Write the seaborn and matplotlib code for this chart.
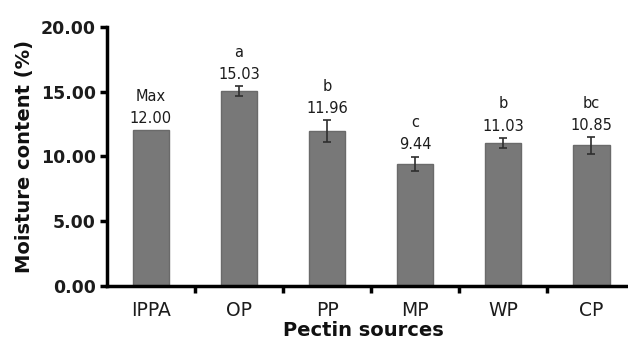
import matplotlib
matplotlib.use("Agg")
import matplotlib.pyplot as plt
from matplotlib.ticker import FixedLocator
import seaborn as sns
import pandas as pd

# Moisture content of pectin from different sources
sources = ["IPPA", "OP", "PP", "MP", "WP", "CP"]
moisture = [12.00, 15.03, 11.96, 9.44, 11.03, 10.85]
sd = [0.0, 0.40, 0.85, 0.55, 0.40, 0.65]
letters = ["Max", "a", "b", "c", "b", "bc"]
value_labels = ["12.00", "15.03", "11.96", "9.44", "11.03", "10.85"]
y_ticks = [0, 5, 10, 15, 20]

sns.set_theme(style="ticks")
plt.rcParams["font.family"] = ["DejaVu Sans"]

df = pd.DataFrame({"source": sources, "moisture": moisture})

fig = plt.figure(figsize=(6.28, 3.40), dpi=100)
ax = fig.add_axes([0.170, 0.159, 0.842, 0.762])

sns.barplot(data=df, x="source", y="moisture", ax=ax, color="#787878",
            saturation=1, width=0.41, edgecolor="#6a6a6a", linewidth=1)

# error bars (IPPA has no spread)
for i, (m, s) in enumerate(zip(moisture, sd)):
    if s > 0:
        ax.errorbar(i, m, yerr=s, fmt="none", ecolor="#2e2e2e",
                    elinewidth=1.2, capsize=3, capthick=1.2)

# value and significance letters above each bar
for i, (m, s, v, l) in enumerate(zip(moisture, sd, value_labels, letters)):
    ax.annotate(v, (i, m + s), xytext=(0, 3), textcoords="offset points",
                ha="center", va="bottom", fontsize=10.5, color="#1c1c1c")
    ax.annotate(l, (i, m + s), xytext=(0, 19), textcoords="offset points",
                ha="center", va="bottom", fontsize=10.5, color="#1c1c1c")

ax.set_ylim(0, 20)
ax.set_xlim(-0.5, 5.5)
ax.yaxis.set_major_locator(FixedLocator(y_ticks))
ax.set_yticklabels([f"{t:.2f}" for t in y_ticks], fontweight="bold", fontsize=12.5)
ax.xaxis.set_minor_locator(FixedLocator([0.5, 1.5, 2.5, 3.5, 4.5]))
ax.tick_params(axis="x", which="major", length=0, pad=11, labelsize=13.5,
               labelcolor="#1c1c1c")
ax.tick_params(axis="x", which="minor", length=5, width=2.5, color="black")
ax.tick_params(axis="y", which="major", length=5, width=2.5, color="black", pad=3,
               labelcolor="#1c1c1c")

ax.set_xlabel("Pectin sources", fontsize=14, fontweight="bold", color="#111111")
ax.xaxis.set_label_coords(0.486, -0.135)
ax.set_ylabel("Moisture content (%)", fontsize=14, fontweight="bold",
              color="#111111", labelpad=5)

sns.despine(ax=ax)
for side in ["left", "bottom"]:
    ax.spines[side].set_linewidth(2.5)
    ax.spines[side].set_color("black")

fig.savefig("out.png", dpi=100)
